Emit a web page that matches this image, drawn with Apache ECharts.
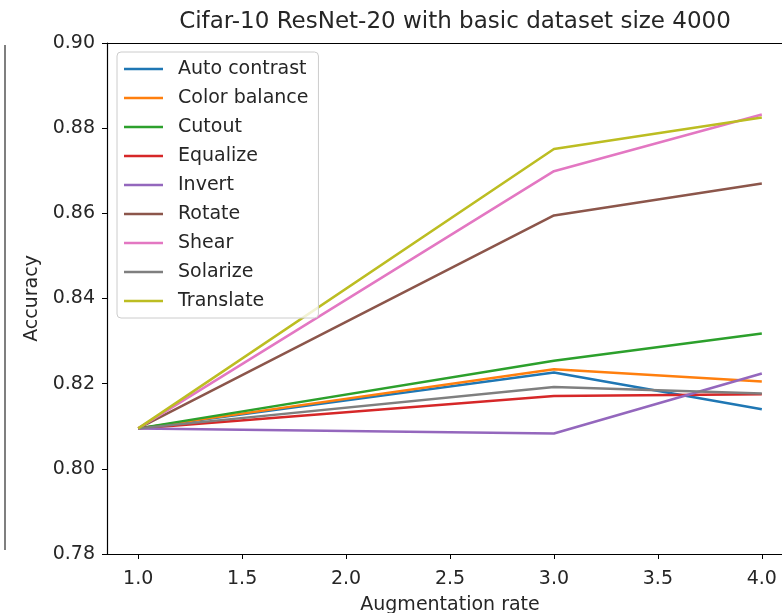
<!DOCTYPE html>
<html>
<head>
<meta charset="utf-8">
<script src="https://cdn.jsdelivr.net/npm/echarts@6/dist/echarts.min.js"></script>
<style>html,body{margin:0;padding:0;background:#fff;overflow:hidden;}#c{width:782px;height:613px;}</style>
</head>
<body>
<div id="c"></div>
<script>
const rates = [1.0, 3.0, 4.0];
const names = ['Auto contrast','Color balance','Cutout','Equalize','Invert','Rotate','Shear','Solarize','Translate'];
const autoContrast = [0.8095, 0.8226, 0.8140];
const colorBalance = [0.8095, 0.8234, 0.8205];
const cutout       = [0.8095, 0.8254, 0.8318];
const equalize     = [0.8095, 0.8171, 0.8175];
const invert       = [0.8095, 0.8083, 0.8224];
const rotate       = [0.8095, 0.8595, 0.8670];
const shear        = [0.8095, 0.8699, 0.8832];
const solarize     = [0.8095, 0.8192, 0.8177];
const translate    = [0.8095, 0.8751, 0.8825];
const yTicks = [0.78, 0.80, 0.82, 0.84, 0.86, 0.88, 0.90];
const xTicks = [1.0, 1.5, 2.0, 2.5, 3.0, 3.5, 4.0];

const allSeries = [autoContrast, colorBalance, cutout, equalize, invert, rotate, shear, solarize, translate];
const colors = ['#1f77b4','#ff7f0e','#2ca02c','#d62728','#9467bd','#8c564b','#e377c2','#7f7f7f','#bcbd22'];
const font = 'DejaVu Sans';
const txt = '#262626';

const chart = echarts.init(document.getElementById('c'));
chart.setOption({
  animation: false,
  color: colors,
  textStyle: {fontFamily: font},
  title: {
    text: 'Cifar-10 ResNet-20 with basic dataset size 4000',
    left: 450, top: 6, textAlign: 'center',
    textStyle: {fontFamily: font, fontSize: 23, fontWeight: 'normal', color: txt}
  },
  graphic: [{
    type: 'line', shape: {x1: 5, y1: 45, x2: 5, y2: 550},
    style: {stroke: '#555', lineWidth: 1.5}
  }],
  grid: {left: 107, top: 43, width: 686, bottom: 59, show: false, outerBoundsMode: 'none', containLabel: false},
  legend: {
    orient: 'vertical', left: 117, top: 52,
    data: names, icon: 'rect', itemWidth: 39, itemHeight: 2.5, itemGap: 7,
    padding: [6, 10, 6, 7],
    borderColor: '#cccccc', borderWidth: 1, borderRadius: 4, backgroundColor: 'rgba(255,255,255,0.8)',
    textStyle: {fontFamily: font, fontSize: 19, color: txt, lineHeight: 22, padding: [0, 0, 0, 10]}
  },
  xAxis: [{
    type: 'value', min: 0.85, max: 4.15, interval: 0.5,
    name: 'Augmentation rate', nameLocation: 'middle', nameGap: 42,
    nameTextStyle: {fontFamily: font, fontSize: 19, color: txt},
    axisLine: {show: true, onZero: false, lineStyle: {color: '#000', width: 1.2}},
    axisTick: {show: true, length: 5, lineStyle: {color: '#000'}, customValues: xTicks},
    axisLabel: {fontFamily: font, fontSize: 19, color: txt, margin: 16, customValues: xTicks,
      formatter: v => v.toFixed(1)},
    splitLine: {show: false}
  }, {
    type: 'value', position: 'top', min: 0.85, max: 4.15,
    axisLine: {show: true, lineStyle: {color: '#000', width: 1.2}},
    axisTick: {show: false}, axisLabel: {show: false}, splitLine: {show: false}
  }],
  yAxis: {
    type: 'value', min: 0.78, max: 0.90, interval: 0.02,
    name: 'Accuracy', nameLocation: 'middle', nameGap: 64, nameRotate: 90,
    nameTextStyle: {fontFamily: font, fontSize: 19, color: txt},
    axisLine: {show: true, lineStyle: {color: '#000', width: 1.2}},
    axisTick: {show: true, length: 5, lineStyle: {color: '#000'}},
    axisLabel: {fontFamily: font, fontSize: 19, color: txt, margin: 12,
      formatter: v => v.toFixed(2)},
    splitLine: {show: false}
  },
  series: allSeries.map((vals, i) => ({
    name: names[i], type: 'line', symbol: 'none',
    lineStyle: {width: 2.5, color: colors[i]},
    itemStyle: {color: colors[i]},
    data: rates.map((r, j) => [r, vals[j]])
  }))
});
</script>
</body>
</html>
